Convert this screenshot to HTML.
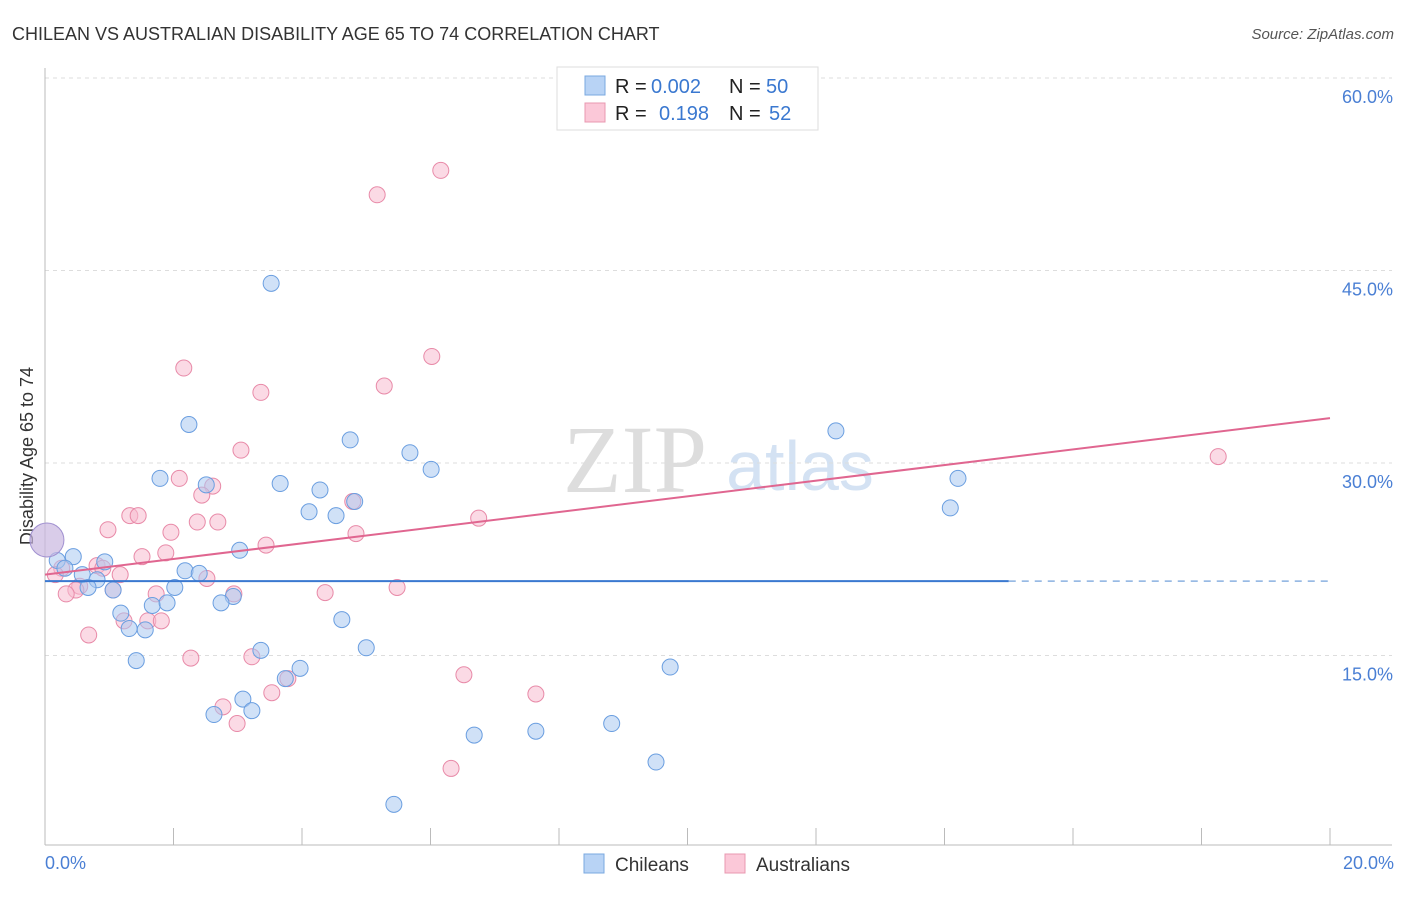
<!DOCTYPE html>
<html><head><meta charset="utf-8"><style>
body{margin:0;background:#fff;font-family:"Liberation Sans",sans-serif}
</style></head><body>
<svg id="c" width="1406" height="892" xmlns="http://www.w3.org/2000/svg"></svg>
<script>
const blueX=[3.52,2.24,4.75,5.68,12.31,6.01,1.79,2.51,3.66,4.28,4.82,4.11,4.53,14.21,14.09,3.03,0.44,0.93,0.19,0.31,0.58,0.81,0.67,1.06,2.18,2.40,2.02,2.93,1.67,1.90,2.74,1.18,4.62,1.31,1.56,5.00,3.36,1.42,3.97,9.73,3.74,3.08,2.63,3.22,8.82,6.68,7.64,9.51,5.43];
const blueY=[44.0,33.0,31.8,30.8,32.5,29.5,28.8,28.3,28.4,27.9,27.0,26.2,25.9,28.8,26.5,23.2,22.7,22.3,22.4,21.8,21.3,20.9,20.3,20.1,21.6,21.4,20.3,19.6,18.9,19.1,19.1,18.3,17.8,17.1,17.0,15.6,15.4,14.6,14.0,14.1,13.2,11.6,10.4,10.7,9.7,8.8,9.1,6.7,3.4];
const pinkX=[6.16,5.17,6.02,2.16,5.28,3.36,3.05,2.09,2.61,2.44,4.79,1.32,1.45,6.75,0.98,2.37,2.69,1.96,4.84,3.44,1.88,1.51,0.81,0.90,1.17,2.52,0.26,0.16,0.54,0.48,0.33,1.06,5.48,4.36,2.94,1.73,1.60,1.81,1.23,0.68,2.27,3.22,3.78,6.52,3.53,7.64,2.77,2.99,6.32,18.26];
const pinkY=[52.8,50.9,38.3,37.4,36.0,35.5,31.0,28.8,28.2,27.5,27.0,25.9,25.9,25.7,24.8,25.4,25.4,24.6,24.5,23.6,23.0,22.7,22.0,21.8,21.3,21.0,21.8,21.3,20.4,20.1,19.8,20.1,20.3,19.9,19.8,19.8,17.7,17.7,17.7,16.6,14.8,14.9,13.2,13.5,12.1,12.0,11.0,9.7,6.2,30.5];
const yTicks=[15,30,45,60];
const blueTrend=[20.8,20.8];
const pinkTrend=[21.3,33.5];
const svg=document.getElementById('c');const NS='http://www.w3.org/2000/svg';
const X=v=>45+v/20*1285, Y=v=>848-v/60*770;
function el(t,a,p){const e=document.createElementNS(NS,t);for(const k in a)e.setAttribute(k,a[k]);(p||svg).appendChild(e);return e;}
function tx(s,a,n){const e=el('text',a);e.textContent=s;return e;}
tx('CHILEAN VS AUSTRALIAN DISABILITY AGE 65 TO 74 CORRELATION CHART',{x:12,y:40,'font-size':18,fill:'#333'},'chart-title');
tx('Source: ZipAtlas.com',{x:1394,y:39,'font-size':15,fill:'#555','text-anchor':'end','font-style':'italic'},'source-label');
tx('ZIP',{x:635,y:492,'font-size':96,fill:'#ddd','font-family':'Liberation Serif','text-anchor':'middle'},'watermark-zip');
tx('atlas',{x:800,y:490,'font-size':70,fill:'#d4e2f3','text-anchor':'middle'},'watermark-atlas');
yTicks.forEach(t=>{const g=el('line',{x1:45,x2:1392,y1:Y(t),y2:Y(t),stroke:'#ddd','stroke-dasharray':'4,4'});
tx(t.toFixed(1)+'%',{x:1393,y:Y(t)+25,'font-size':18,fill:'#4a7fd4','text-anchor':'end'},'y-tick-'+t);});
let a=el('line',{x1:45,x2:45,y1:68,y2:845,stroke:'#bbb'});
a=el('line',{x1:45,x2:1392,y1:845,y2:845,stroke:'#bbb'});
for(let i=1;i<=10;i++){const l=el('line',{x1:X(i*2),x2:X(i*2),y1:828,y2:845,stroke:'#bbb'});}
tx('0.0%',{x:45,y:869,'font-size':18,fill:'#4a7fd4'},'x-tick-min');
tx('20.0%',{x:1394,y:869,'font-size':18,fill:'#4a7fd4','text-anchor':'end'},'x-tick-max');
tx('Disability Age 65 to 74',{x:0,y:0,'font-size':18,fill:'#333','text-anchor':'middle',transform:'translate(33,456) rotate(-90)'},'y-axis-title');
function dots(xs,ys,f,s,n){xs.forEach((v,i)=>{const c=el('circle',{cx:X(v),cy:Y(ys[i]),r:8,fill:f,'fill-opacity':0.55,stroke:s,'stroke-width':1});});}
dots(pinkX,pinkY,'#f8bcd0','#e88aa8','australian-point');
dots(blueX,blueY,'#a9c8f0','#6a9ee0','chilean-point');
let b=el('circle',{cx:X(0.03),cy:Y(24),r:17,fill:'#c9b6e0','fill-opacity':0.7,stroke:'#a090d0'});
let t1=el('line',{x1:X(0),x2:X(15),y1:Y(blueTrend[0]),y2:Y(blueTrend[0]+(blueTrend[1]-blueTrend[0])*0.75),stroke:'#3a78d0','stroke-width':2});
let t2=el('line',{x1:X(15),x2:X(20),y1:Y(blueTrend[0]+(blueTrend[1]-blueTrend[0])*0.75),y2:Y(blueTrend[1]),stroke:'#8ab0e0','stroke-width':1.5,'stroke-dasharray':'7,6'});
let t3=el('line',{x1:X(0),x2:X(20),y1:Y(pinkTrend[0]),y2:Y(pinkTrend[1]),stroke:'#e06690','stroke-width':2});
let lg=el('rect',{x:557,y:67,width:261,height:63,fill:'#fff',stroke:'#ddd'});
let s1=el('rect',{x:585,y:76,width:20,height:19,fill:'#b8d3f5',stroke:'#7aa8e0'});
let s2=el('rect',{x:585,y:103,width:20,height:19,fill:'#fbc8d8',stroke:'#e898b0'});
function rich(y,parts,n){const t=el('text',{x:615,y:y,'font-size':20});parts.forEach(p=>{const s=el('tspan',{fill:p[1]},t);if(p[2])s.setAttribute('x',p[2]);s.textContent=p[0];});}
rich(93,[['R = ','#222'],['0.002','#3a78d0',651],['N = ','#222',729],['50','#3a78d0',766]],'legend-chilean-stats');
rich(120,[['R = ','#222'],['0.198','#3a78d0',659],['N = ','#222',729],['52','#3a78d0',769]],'legend-australian-stats');
let b1=el('rect',{x:584,y:854,width:20,height:19,fill:'#b8d3f5',stroke:'#7aa8e0'});
tx('Chileans',{x:615,y:871,'font-size':19,fill:'#333'},'bottom-legend-chileans');
let b2=el('rect',{x:725,y:854,width:20,height:19,fill:'#fbc8d8',stroke:'#e898b0'});
tx('Australians',{x:756,y:871,'font-size':19,fill:'#333'},'bottom-legend-australians');
</script>
</body></html>
